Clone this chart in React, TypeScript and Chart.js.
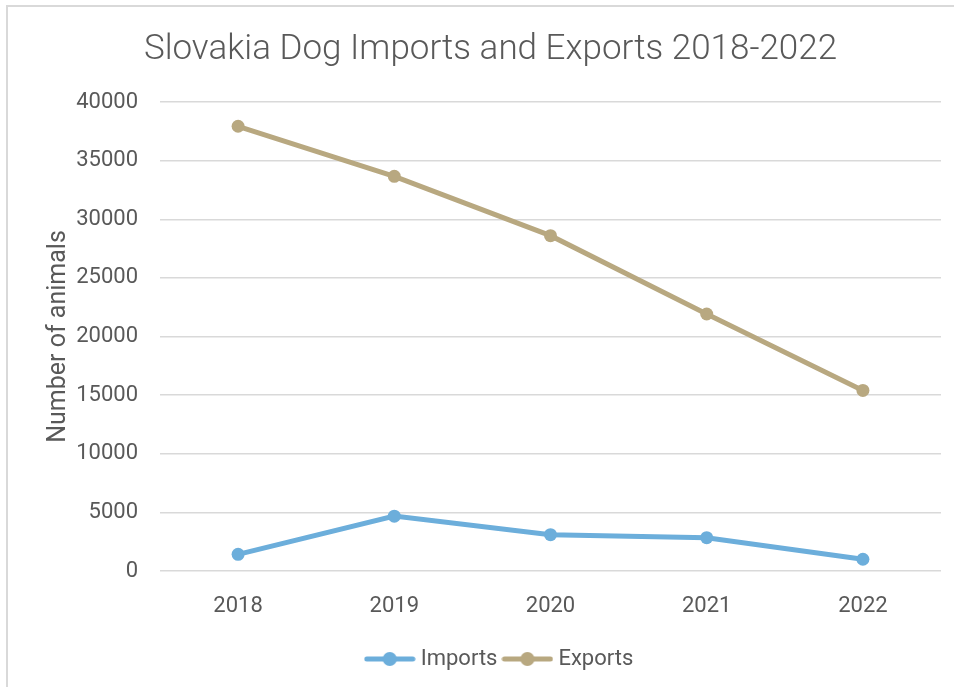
import React, { useEffect, useRef } from "react";
import { Chart, registerables } from "chart.js";

Chart.register(...registerables);

const categories = ["2018", "2019", "2020", "2021", "2022"];
const importsValues = [1420, 4680, 3100, 2840, 1000];
const exportsValues = [37930, 33660, 28600, 21920, 15400];
const yMin = 0;
const yMax = 40000;
const yStep = 5000;

const titleText = "Slovakia Dog Imports and Exports 2018-2022";
const yAxisTitle = "Number of animals";
const seriesNames = ["Imports", "Exports"];

const BLUE = "#6CAEDB";
const TAN = "#B8A880";
const TEXT = "#595959";
const GRID = "#D9D9D9";
const FONT = "Roboto";

function makeLegendIcon(color: string): HTMLCanvasElement {
  const c = document.createElement("canvas");
  c.width = 52;
  c.height = 16;
  const ctx = c.getContext("2d")!;
  ctx.strokeStyle = color;
  ctx.lineWidth = 5;
  ctx.lineCap = "round";
  ctx.beginPath();
  ctx.moveTo(3, 8);
  ctx.lineTo(49, 8);
  ctx.stroke();
  ctx.fillStyle = color;
  ctx.beginPath();
  ctx.arc(26, 8, 7, 0, Math.PI * 2);
  ctx.fill();
  return c;
}

const legendShift = {
  id: "legendShift",
  afterLayout(chart: any) {
    const l = chart.legend;
    if (l) {
      l.left += 22;
      l.right += 0;
    }
  },
};

export default function App() {
  const ref = useRef<HTMLCanvasElement | null>(null);

  useEffect(() => {
    if (!ref.current) return;
    const icons = [makeLegendIcon(BLUE), makeLegendIcon(TAN)];
    const chart = new Chart(ref.current, {
      type: "line",
      data: {
        labels: categories,
        datasets: [
          {
            label: seriesNames[0],
            data: importsValues,
            borderColor: BLUE,
            backgroundColor: BLUE,
            borderWidth: 5,
            pointRadius: 6.5,
            pointHoverRadius: 6.5,
            pointBackgroundColor: BLUE,
            pointBorderWidth: 0,
            tension: 0,
          },
          {
            label: seriesNames[1],
            data: exportsValues,
            borderColor: TAN,
            backgroundColor: TAN,
            borderWidth: 5,
            pointRadius: 6.5,
            pointHoverRadius: 6.5,
            pointBackgroundColor: TAN,
            pointBorderWidth: 0,
            tension: 0,
          },
        ],
      },
      plugins: [legendShift],
      options: {
        responsive: false,
        animation: false,
        events: [],
        layout: { padding: { left: 40, right: 13, top: 0, bottom: 7 } },
        plugins: {
          title: {
            display: true,
            text: titleText,
            color: TEXT,
            font: { family: FONT, size: 35, weight: 300 },
            padding: { top: 29, bottom: 31 },
          },
          legend: {
            position: "bottom",
            labels: {
              color: TEXT,
              font: { family: FONT, size: 22 },
              usePointStyle: true,
              pointStyleWidth: 40,
              padding: 10,
              generateLabels: (ch: any) =>
                ch.data.datasets.map((ds: any, i: number) => ({
                  text: ds.label,
                  fillStyle: ds.borderColor,
                  strokeStyle: ds.borderColor,
                  fontColor: TEXT,
                  lineWidth: 0,
                  pointStyle: icons[i],
                  hidden: false,
                  datasetIndex: i,
                })),
            },
          },
          tooltip: { enabled: false },
        },
        scales: {
          x: {
            offset: true,
            grid: { display: false, drawTicks: false },
            border: { display: false },
            ticks: {
              color: TEXT,
              font: { family: FONT, size: 22 },
              padding: 22,
            },
            afterFit: (s: any) => {
              s.height = 67;
            },
          },
          y: {
            min: yMin,
            max: yMax,
            grid: { color: GRID, lineWidth: 1.5, drawTicks: false },
            border: { display: false },
            ticks: {
              stepSize: yStep,
              color: TEXT,
              font: { family: FONT, size: 22 },
              padding: 22,
              callback: (v: any) => String(v),
            },
            title: {
              display: true,
              text: yAxisTitle,
              color: TEXT,
              font: { family: FONT, size: 25 },
            },
            afterFit: (s: any) => {
              s.width = 120;
            },
          },
        },
      },
    });
    return () => chart.destroy();
  }, []);

  return (
    <div
      style={{
        position: "absolute",
        left: 0,
        top: 0,
        width: 954,
        height: 687,
        overflow: "hidden",
        background: "#fff",
      }}
    >
      <div
        style={{
          position: "absolute",
          left: 6,
          top: 5,
          width: 2000,
          height: 2000,
          border: "2px solid #D9D9D9",
        }}
      />
      <canvas
        ref={ref}
        width={954}
        height={687}
        style={{ position: "absolute", left: 0, top: 0 }}
      />
    </div>
  );
}
